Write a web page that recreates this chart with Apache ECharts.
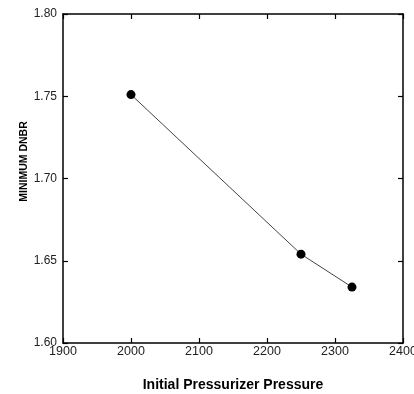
<!DOCTYPE html>
<html><head><meta charset="utf-8">
<script src="https://cdn.jsdelivr.net/npm/echarts@6/dist/echarts.min.js"></script>
<style>html,body{margin:0;padding:0;background:#fff}#c{width:414px;height:394px}</style>
</head><body><div id="c"></div>
<script>
const pressure = [2000, 2250, 2325];
const minDNBR = [1.751, 1.654, 1.634];
const xTitle = 'Initial Pressurizer Pressure';
const yTitle = 'MINIMUM DNBR';

const font = 'Arial, "Liberation Sans", sans-serif';
const chart = echarts.init(document.getElementById('c'), null, {renderer: 'canvas'});
const axisLine = {show: true, lineStyle: {color: '#000', width: 1.5}};
const tickIn = {show: true, inside: true, length: 5, lineStyle: {color: '#000', width: 1.2}};
chart.setOption({
  animation: false,
  backgroundColor: '#fff',
  grid: {left: 63, right: 11, top: 14, bottom: 51, containLabel: false, outerBoundsMode: 'none'},
  xAxis: [{
    type: 'value', min: 1900, max: 2400, interval: 100,
    axisLine: axisLine, axisTick: tickIn, splitLine: {show: false},
    axisLabel: {color: '#222', fontSize: 12.5, fontFamily: font, margin: 2, showMaxLabel: true,
      hideOverlap: false, formatter: v => String(v)},
    name: xTitle, nameLocation: 'middle', nameGap: 35, nameMoveOverlap: false,
    nameTextStyle: {color: '#000', fontSize: 14, fontWeight: 'bold', fontFamily: font}
  }, {
    type: 'value', position: 'top', min: 1900, max: 2400, interval: 100,
    axisLine: axisLine, axisTick: tickIn, axisLabel: {show: false}, splitLine: {show: false}
  }],
  yAxis: [{
    type: 'value', min: 1.60, max: 1.80, interval: 0.05,
    axisLine: axisLine, axisTick: tickIn, splitLine: {show: false},
    axisLabel: {color: '#222', fontSize: 12, fontFamily: font, margin: 6,
      formatter: v => v.toFixed(2)},
    name: yTitle, nameLocation: 'middle', nameGap: 33, nameRotate: 90, nameMoveOverlap: false,
    nameTextStyle: {color: '#000', fontSize: 10.5, fontWeight: 'bold', fontFamily: font,
      padding: [0, 0, 0, 34]}
  }, {
    type: 'value', position: 'right', min: 1.60, max: 1.80, interval: 0.05,
    axisLine: axisLine, axisTick: tickIn, axisLabel: {show: false}, splitLine: {show: false}
  }],
  series: [{
    type: 'line',
    data: pressure.map((p, i) => [p, minDNBR[i]]),
    symbol: 'circle', symbolSize: 9,
    itemStyle: {color: '#000'},
    lineStyle: {color: '#444', width: 1}
  }]
});
</script></body></html>
